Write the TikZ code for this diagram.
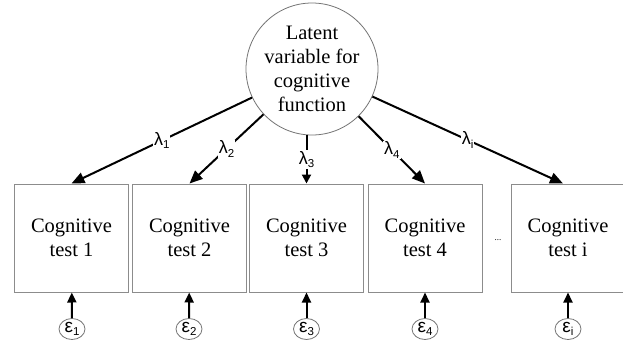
\documentclass[tikz,border=0pt]{standalone}
\usepackage{fontspec}
\setmainfont{Liberation Serif}
\newfontfamily\labelfont{Liberation Sans}
\usetikzlibrary{arrows.meta,shapes.geometric}

% loading labels and error terms, set in a sans face
\newcommand{\lamlbl}[1]{{\labelfont\fontsize{18}{18}\selectfont λ\raisebox{-0.35ex}{\fontsize{11.5}{12}\selectfont #1}}}
\newcommand{\epslbl}[1]{{\labelfont\fontsize{19}{19}\selectfont ε\raisebox{-0.35ex}{\fontsize{11.5}{12}\selectfont #1}}}

\tikzset{
  latent/.style={circle, draw=black!55, line width=0.8pt, minimum size=132pt,
    inner sep=0pt, align=center, font=\fontsize{20.5}{24}\selectfont},
  testbox/.style={rectangle, draw=black!45, line width=1pt, minimum width=114pt,
    minimum height=108pt, inner sep=0pt, align=center,
    font=\fontsize{20.5}{24}\selectfont},
  errterm/.style={ellipse, draw=black!55, line width=0.8pt, minimum width=26pt,
    minimum height=21pt, inner sep=0pt},
  loading/.style={line width=2pt, -{Triangle[length=13pt,width=11pt]}},
  shortload/.style={line width=2pt, -{Triangle[length=9pt,width=9pt]}},
  errarrow/.style={line width=2pt, -{Triangle[length=10pt,width=9pt]}},
  lamnode/.style={fill=white, inner sep=1pt},
}

\begin{document}
\begin{tikzpicture}[x=1pt, y=-1pt]
  \clip (0,0) rectangle (623,343);
  \useasboundingbox (0,0) rectangle (623,343);

  % latent factor
  \node[latent] (lat) at (312,69) {Latent\\variable for\\cognitive\\function};

  % observed tests
  \node[testbox] (b1) at (71.5,238) {Cognitive\\test 1};
  \node[testbox] (b2) at (189.5,238) {Cognitive\\test 2};
  \node[testbox] (b3) at (306.5,238) {Cognitive\\test 3};
  \node[testbox] (b4) at (425,238) {Cognitive\\test 4};
  \node[testbox] (bi) at (568,238) {Cognitive\\test i};
  \node[font=\fontsize{9}{10}\selectfont] (dots) at (498,240) {...};

  % error terms
  \node[errterm] (e1) at (72,329) {\epslbl{1}};
  \node[errterm] (e2) at (189,329) {\epslbl{2}};
  \node[errterm] (e3) at (306.5,329) {\epslbl{3}};
  \node[errterm] (e4) at (425,329) {\epslbl{4}};
  \node[errterm] (ei) at (568,329) {\epslbl{i}};

  % factor loadings
  \coordinate (t1) at (b1.north);
  \coordinate (t2) at (b2.north);
  \coordinate (t4) at (b4.north);
  \coordinate (ti) at ([xshift=-5pt]bi.north);
  \draw[loading] (lat) -- (t1) node[lamnode, pos=0.5] {\lamlbl{1}};
  \draw[loading] (lat) -- (t2) node[lamnode, pos=0.5] {\lamlbl{2}};
  \draw[shortload] (lat.south -| b3.north) -- (b3.north) node[lamnode, pos=0.5] {\lamlbl{3}};
  \draw[loading] (lat) -- (t4) node[lamnode, pos=0.5] {\lamlbl{4}};
  \draw[loading] (lat) -- (ti) node[lamnode, pos=0.5] {\lamlbl{i}};

  % residual arrows
  \foreach \e/\b in {e1/b1, e2/b2, e3/b3, e4/b4, ei/bi}
    \draw[errarrow] (\e) -- (\b);
\end{tikzpicture}
\end{document}
